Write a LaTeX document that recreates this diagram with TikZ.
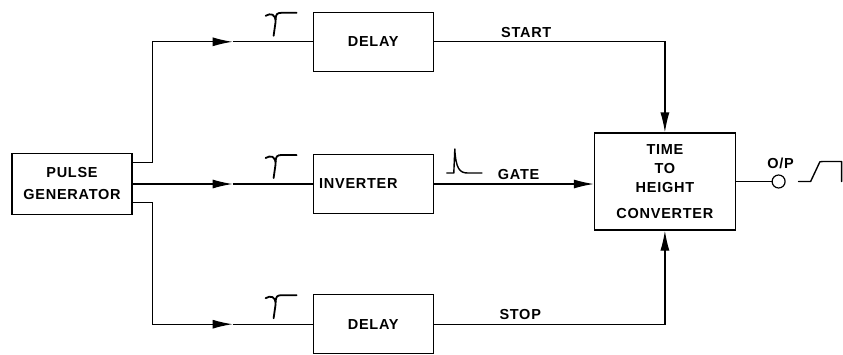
\documentclass[tikz,border=0pt]{standalone}
\usepackage{fontspec}
\setmainfont{Liberation Sans}
\newfontfamily\lblfont[LetterSpace=5,BoldFont={Liberation Sans Bold}]{Liberation Sans}
\usetikzlibrary{arrows.meta,positioning,calc}

\begin{document}
\begin{tikzpicture}[x=1pt,y=-1pt,
  node distance=80pt and 180pt,
  box/.style={rectangle,draw,line width=1.2pt,minimum width=120pt,minimum height=59pt,
    align=center,font=\lblfont\bfseries\fontsize{14.5}{22}\selectfont,inner sep=2pt},
  term/.style={circle,draw,line width=1.2pt,minimum size=13pt,inner sep=0pt},
  lbl/.style={font=\lblfont\bfseries\fontsize{14.5}{18}\selectfont,inner sep=2pt},
  ln/.style={line width=1.2pt},
  arr/.style={line width=1.2pt,-{Latex[length=20pt,width=9pt]}},
  wave/.style={line width=1.8pt,line cap=round,line join=round}]
  \useasboundingbox[fill=white] (0,0) rectangle (843,354);
  \node[box,minimum height=61pt] (gen) at (72,184) {PULSE\\GENERATOR};
  \node[box,right=of gen,text width=108pt,inner xsep=6pt,align=left] (inv) {INVERTER};
  \node[box,above=82pt of inv] (dl1) {DELAY};
  \node[box,below=of inv] (dl2) {DELAY};
  \node[box,right=160pt of inv,yshift=2.5pt,minimum width=141pt,minimum height=97pt,
    font=\lblfont\bfseries\fontsize{14.5}{19}\selectfont] (conv) {TIME\\TO\\HEIGHT\\[7pt]CONVERTER};
  \node[term,right=35.5pt of conv] (op) {};
  \node[lbl,above=3pt of op,xshift=2pt] (oplbl) {O/P};
  \coordinate (g1) at ($(gen.north east)+(0,9.5)$);
  \coordinate (g3) at ($(gen.south east)+(0,-12.5)$);
  \coordinate (a1) at ($(dl1.west)+(-80,0)$);
  \coordinate (a2) at ($(inv.west)+(-80,0)$);
  \coordinate (a3) at ($(dl2.west)+(-80,0)$);
  \draw[arr] (g1) -- ++(20,0) |- (a1); \draw[ln] (a1) -- (dl1);
  \draw[arr] (gen) -- (a2); \draw[ln] (a2) -- (inv);
  \draw[arr] (g3) -- ++(20,0) |- (a3); \draw[ln] (a3) -- (dl2);
  \draw[arr] (dl1) -| node[lbl,pos=0.2,above=2pt] {START} (conv);
  \draw[arr] (inv) -- node[lbl,pos=0.53,above=2pt] {GATE} (inv -| conv.west);
  \draw[arr] (dl2) -| node[lbl,pos=0.187,above=2pt] {STOP} (conv);
  \draw[ln] (conv) -- (op);
  \foreach \n in {dl1,inv,dl2}{
    \begin{scope}[shift={(\n.west)}]
      \draw[wave] (-47,-26) .. controls (-42,-29) and (-37,-28) .. (-37,-20) -- (-39,-6);
      \draw[wave] (-37,-22) .. controls (-37,-28) and (-35,-29) .. (-31,-29) -- (-16,-29);
    \end{scope}
  }
  \begin{scope}[shift={(inv.east)}]
    \draw[wave,line width=1.4pt] (13,-11) -- (20,-11) -- (21,-35) .. controls (22,-15) and (26,-11) .. (34,-11) -- (48,-11);
  \end{scope}
  \begin{scope}[shift={(op.center)}]
    \draw[wave,line width=1.4pt] (20,0) -- (32,0) -- (40,-17) .. controls (41,-20) .. (44,-20) -- (63,-20) -- (63,0);
  \end{scope}
\end{tikzpicture}
\end{document}
